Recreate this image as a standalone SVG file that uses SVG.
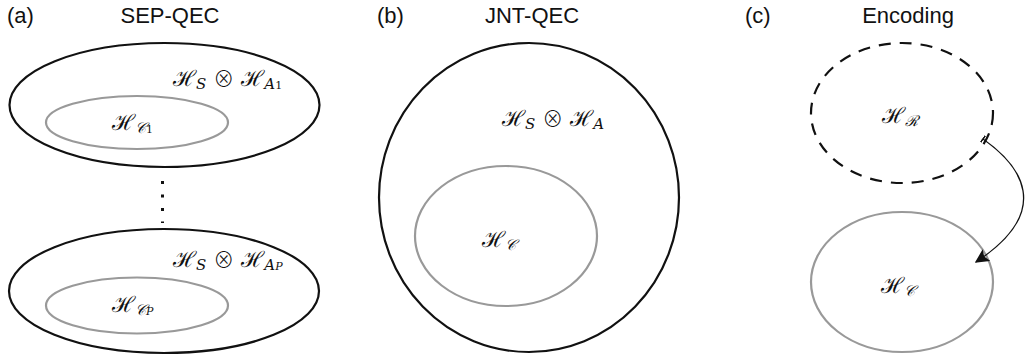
<svg xmlns="http://www.w3.org/2000/svg" width="1025" height="363" viewBox="0 0 1025 363">
<style>
.t{font-family:"Liberation Sans","DejaVu Sans",sans-serif;font-size:22px;fill:#111}
.m{font-family:"DejaVu Serif","Liberation Serif",serif;font-size:22px;fill:#111}
.x{font-family:"Noto Sans CJK JP","DejaVu Sans",sans-serif;font-weight:300;font-size:21px}
.s{font-size:15px;font-style:italic}
.o{fill:none;stroke:#111;stroke-width:2.2}
.i{fill:none;stroke:#999;stroke-width:2.2}
.d{fill:none;stroke:#111;stroke-width:2.2;stroke-dasharray:12 9}
.c{fill:none;stroke:#111;stroke-width:1.3}
</style>
<defs>
<marker id="ah" viewBox="0 0 10 10" refX="9" refY="5" markerWidth="14" markerHeight="14" markerUnits="userSpaceOnUse" orient="auto"><path d="M0,0 L10,5 L0,10 L2,5 Z" fill="#111"/></marker>
<marker id="bar" viewBox="0 0 2 10" refX="1" refY="5" markerWidth="2" markerHeight="8" markerUnits="userSpaceOnUse" orient="auto"><rect x="0" y="0" width="2" height="10" fill="#111"/></marker>
</defs>
<g id="labels">
<text class="t" x="7" y="23">(a)</text>
<text class="t" x="170" y="23" text-anchor="middle">SEP-QEC</text>
<text class="t" x="377" y="23">(b)</text>
<text class="t" x="532" y="23" text-anchor="middle">JNT-QEC</text>
<text class="t" x="745" y="23">(c)</text>
<text class="t" x="908" y="23" text-anchor="middle">Encoding</text>
</g>
<g id="a1">
<ellipse class="o" cx="164.5" cy="105" rx="155" ry="62"/>
<text class="m" x="173" y="86">ℋ<tspan class="s" dy="3">S</tspan><tspan dy="-3"> </tspan><tspan class="x">⊗</tspan><tspan> ℋ</tspan><tspan class="s" dy="3">A<tspan font-size="11" font-style="normal">1</tspan></tspan></text>
</g>
<g id="c1">
<ellipse class="i" cx="137" cy="122.5" rx="91" ry="26.5"/>
<text class="m" x="112" y="130">ℋ<tspan class="s" dy="3">𝒞<tspan font-size="11" font-style="normal">1</tspan></tspan></text>
</g>
<g id="dots">
<line x1="162.5" y1="181" x2="162.5" y2="223" stroke="#111" stroke-width="3" stroke-dasharray="3 10.5"/>
</g>
<g id="aP">
<ellipse class="o" cx="164" cy="291" rx="155" ry="62"/>
<text class="m" x="173" y="267">ℋ<tspan class="s" dy="3">S</tspan><tspan dy="-3"> </tspan><tspan class="x">⊗</tspan><tspan> ℋ</tspan><tspan class="s" dy="3">A<tspan font-size="11">P</tspan></tspan></text>
</g>
<g id="cP">
<ellipse class="i" cx="137" cy="305.5" rx="91" ry="28"/>
<text class="m" x="112" y="312">ℋ<tspan class="s" dy="3">𝒞<tspan font-size="11">P</tspan></tspan></text>
</g>
<g id="b">
<ellipse class="o" cx="529" cy="197.5" rx="150" ry="154.5"/>
<text class="m" x="502" y="126">ℋ<tspan class="s" dy="3">S</tspan><tspan dy="-3"> </tspan><tspan class="x">⊗</tspan><tspan> ℋ</tspan><tspan class="s" dy="3">A</tspan></text>
</g>
<g id="bc">
<ellipse class="i" cx="506" cy="236" rx="91" ry="70"/>
<text class="m" x="482" y="247">ℋ<tspan class="s" dy="3">𝒞</tspan></text>
</g>
<g id="r">
<ellipse class="d" cx="902" cy="113" rx="91" ry="70"/>
<text class="m" x="882" y="123">ℋ<tspan class="s" dy="3">ℛ</tspan></text>
</g>
<g id="cc">
<ellipse class="i" cx="902" cy="282" rx="91" ry="70"/>
<text class="m" x="881" y="293">ℋ<tspan class="s" dy="3">𝒞</tspan></text>
</g>
<g id="connectors">
<path class="c" d="M983,139 C1020,165 1055,210 976,262" marker-start="url(#bar)" marker-end="url(#ah)"/>
</g>
</svg>
